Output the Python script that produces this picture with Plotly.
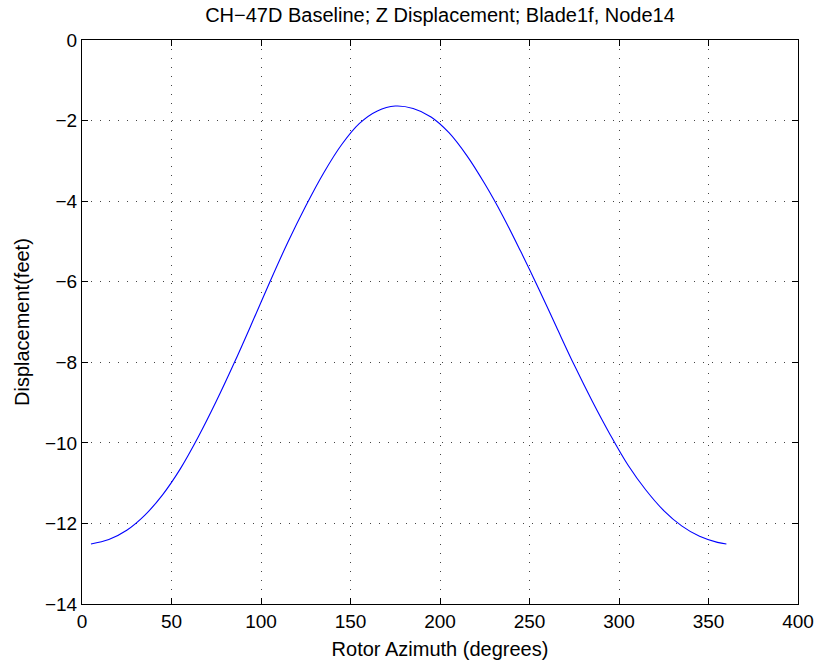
import plotly.graph_objects as go

# Rotor azimuth (degrees)
azimuth = [5, 15, 25, 35, 45, 55, 65, 75, 85, 95, 105, 115, 125, 135, 145, 155, 165,
           175, 185, 195, 205, 215, 225, 235, 245, 255, 265, 275, 285, 295, 305,
           315, 325, 335, 345, 355, 360]
# Z displacement (feet)
displacement = [-12.51, -12.40, -12.17, -11.80, -11.29, -10.64, -9.85, -8.97, -8.02,
                -7.02, -6.00, -5.02, -4.12, -3.30, -2.60, -2.07, -1.76, -1.64,
                -1.70, -1.91, -2.30, -2.87, -3.57, -4.36, -5.24, -6.16, -7.12,
                -8.07, -8.96, -9.79, -10.55, -11.17, -11.68, -12.06, -12.32,
                -12.47, -12.51]

x_ticks = [0, 50, 100, 150, 200, 250, 300, 350, 400]
y_ticks = [-14, -12, -10, -8, -6, -4, -2, 0]

FONT = "Liberation Sans, Arial, Helvetica, sans-serif"

fig = go.Figure()
fig.add_trace(go.Scatter(
    x=azimuth, y=displacement, mode="lines",
    line=dict(color="#0000ff", width=1.1, shape="spline", smoothing=1.0),
    showlegend=False, hoverinfo="skip",
))

axis_common = dict(
    showline=True, linecolor="black", linewidth=1, mirror="ticks",
    ticks="inside", ticklen=6, tickcolor="black", tickwidth=1,
    showgrid=True, gridcolor="#444444", gridwidth=1, griddash="1px,8px",
    zeroline=False, automargin=False,
    tickfont=dict(family=FONT, size=19, color="black"),
)

fig.update_xaxes(
    range=[0, 400], tickmode="array", tickvals=x_ticks,
    ticktext=[str(v) for v in x_ticks],
    title=dict(text="Rotor Azimuth (degrees)", font=dict(family=FONT, size=20, color="black"), standoff=11),
    **axis_common,
)
fig.update_yaxes(
    range=[-14, 0], tickmode="array", tickvals=y_ticks,
    ticktext=[("\u2212" + str(-v)) if v < 0 else str(v) for v in y_ticks],
    **axis_common,
)

fig.add_annotation(
    text="Displacement(feet)", textangle=-90,
    xref="paper", yref="paper", x=-60 / 716, y=0.5,
    xanchor="center", yanchor="middle", showarrow=False,
    font=dict(family=FONT, size=20, color="black"),
)

fig.update_layout(
    width=815, height=662,
    margin=dict(l=82, r=17, t=40, b=58),
    paper_bgcolor="white", plot_bgcolor="white",
    title=dict(text="CH\u221247D Baseline; Z Displacement; Blade1f, Node14",
               font=dict(family=FONT, size=20, color="black"),
               xref="paper", x=0.5, xanchor="center", y=0.977, yanchor="middle"),
)

fig.write_html("out.html")
